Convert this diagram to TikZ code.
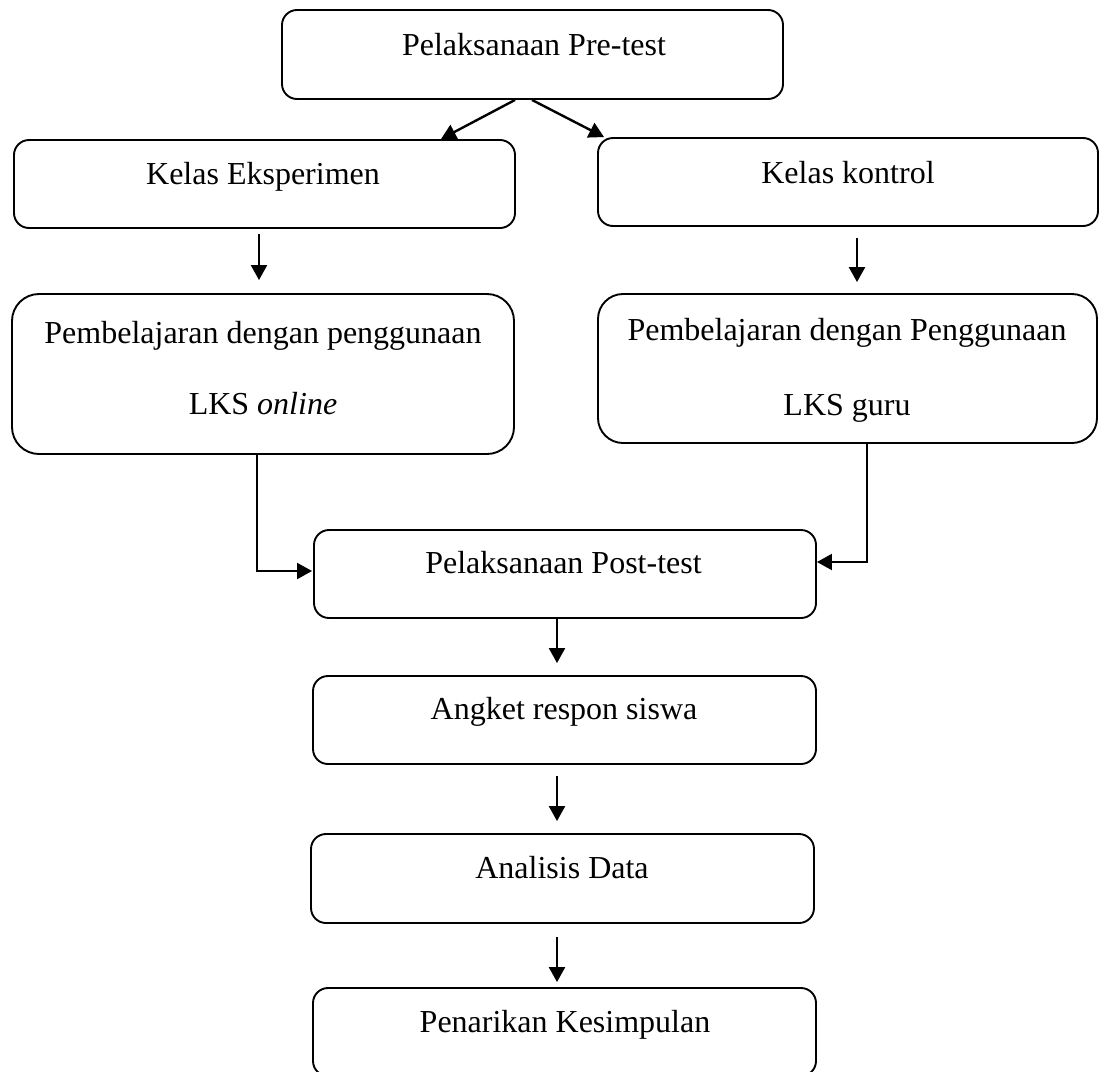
\documentclass[tikz,border=0pt]{standalone}
\usepackage{fontspec}
\setmainfont{Liberation Serif}
\usetikzlibrary{arrows.meta,calc}
\tikzset{
  box/.style={draw=black, line width=1.9pt, inner sep=0pt, rectangle},
  lbl/.style={anchor=base, inner sep=0pt, font=\fontsize{32}{38}\selectfont},
  arr/.style={line width=2.4pt, -{Triangle[length=15pt,width=16pt]}},
  elbow/.style={line width=2pt, -{Triangle[length=15pt,width=16pt]}}
}
\begin{document}
\begin{tikzpicture}[x=1pt,y=-1pt]
\useasboundingbox (0,0) rectangle (1099,1071);
\clip (0,0) rectangle (1099,1071);
\fill[white] (0,0) rectangle (1099,1071);
% boxes
\node[box, minimum width=501, minimum height=89, rounded corners=15] (b1) at (532.5,54.5) {};
\node[box, minimum width=501, minimum height=88, rounded corners=15] (b2) at (264.5,184) {};
\node[box, minimum width=500, minimum height=88, rounded corners=15] (b3) at (848,182) {};
\node[box, minimum width=502, minimum height=160, rounded corners=27] (b4) at (263,374) {};
\node[box, minimum width=499, minimum height=149, rounded corners=25] (b5) at (847.5,368.5) {};
\node[box, minimum width=502, minimum height=88, rounded corners=15] (b6) at (565,574) {};
\node[box, minimum width=503, minimum height=88, rounded corners=15] (b7) at (564.5,720) {};
\node[box, minimum width=503, minimum height=89, rounded corners=15] (b8) at (562.5,878.5) {};
\node[box, minimum width=503, minimum height=88, rounded corners=15] (b9) at (564.5,1032) {};
% texts
\node[lbl] (t1) at (534,55) {Pelaksanaan Pre-test};
\node[lbl] (t2) at (263,184) {Kelas Eksperimen};
\node[lbl] (t3) at (848,183) {Kelas kontrol};
\node[lbl] (t4a) at (263,343) {Pembelajaran dengan penggunaan};
\node[lbl] (t4b) at (263,414) {LKS \textit{online}};
\node[lbl] (t5a) at (847,340) {Pembelajaran dengan Penggunaan};
\node[lbl] (t5b) at (847,415) {LKS guru};
\node[lbl] (t6) at (563.5,573) {Pelaksanaan Post-test};
\node[lbl] (t7) at (564,719) {Angket respon siswa};
\node[lbl] (t8) at (562,878) {Analisis Data};
\node[lbl] (t9) at (565,1032) {Penarikan Kesimpulan};
% connectors
\draw[arr] ($(b1.south)+(-17.5,0)$) -- ($(b2.north)+(176.5,0)$);
\draw[arr] ($(b1.south)+(-0.5,0)$) -- ($(b3.north)+(-244,0)$);
\draw[arr] ($(b2.south)+(-5.5,5)$) -- ($(b4.north)+(-4,-13)$);
\draw[arr] ($(b3.south)+(9,11)$) -- ($(b5.north)+(9.5,-11)$);
\draw[elbow] ($(b4.south)+(-6,0)$) |- ($(b6.west)+(-1,-3)$);
\draw[elbow] ($(b5.south)+(19.5,0)$) |- ($(b6.east)+(0,-12)$);
\draw[arr] ($(b6.south)+(-8,0)$) -- ($(b7.north)+(-7.5,-12)$);
\draw[arr] ($(b7.south)+(-7.5,11)$) -- ($(b8.north)+(-5.5,-12)$);
\draw[arr] ($(b8.south)+(-5.5,13)$) -- ($(b9.north)+(-7.5,-5)$);
\end{tikzpicture}
\end{document}
